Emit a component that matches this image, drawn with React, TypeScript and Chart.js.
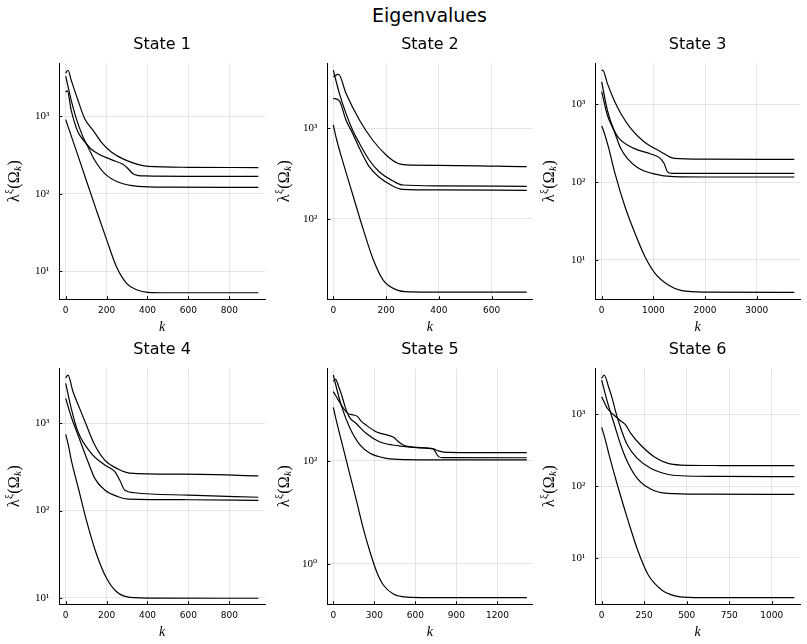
import { useEffect, useRef } from "react";
import { Chart, registerables } from "chart.js";

Chart.register(...registerables);

type Pt = [number, number];

// ---- State 1: eigenvalue traces, [k, λ] ----
const s1a: Pt[] = [[0, 3620], [11, 3930], [27, 2920], [60, 1610], [93, 933], [134, 659], [174, 466], [223, 346], [288, 276], [402, 226], [600, 220], [942, 218]];
const s1b: Pt[] = [[0, 3300], [27, 1610], [60, 805], [101, 445], [158, 330], [223, 276], [280, 240], [305, 211], [329, 182], [386, 170], [600, 168], [942, 168]];
const s1c: Pt[] = [[0, 2060], [8, 2130], [27, 1195], [60, 627], [101, 440], [142, 271], [191, 182], [256, 142], [354, 125], [500, 122], [942, 121]];
const s1d: Pt[] = [[0, 906], [50, 372], [100, 151], [150, 61.7], [200, 25.7], [250, 11.2], [300, 6.9], [350, 5.75], [400, 5.37], [500, 5.3], [942, 5.3]];

// ---- State 2 ----
const s2a: Pt[] = [[0, 3710], [20, 3940], [48, 2430], [99, 1235], [149, 743], [200, 508], [244, 411], [275, 394], [400, 390], [733, 377]];
const s2b: Pt[] = [[0, 4390], [23, 2430], [48, 1462], [73, 957], [99, 684], [136, 447], [174, 332], [225, 264], [263, 237], [400, 232], [733, 229]];
const s2c: Pt[] = [[0, 2140], [23, 2010], [48, 1235], [73, 881], [99, 603], [136, 377], [174, 288], [225, 231], [263, 212], [400, 209], [733, 207]];
const s2d: Pt[] = [[0, 1090], [13, 743], [38, 411], [76, 176], [114, 75.7], [152, 35.3], [189, 21.2], [240, 16.5], [291, 15.7], [400, 15.6], [733, 15.6]];

// ---- State 3 ----
const s3a: Pt[] = [[0, 2670], [20, 2730], [109, 1840], [238, 1125], [367, 760], [561, 487], [819, 329], [1142, 245], [1399, 201], [2000, 196], [3728, 195]];
const s3b: Pt[] = [[0, 1930], [109, 837], [238, 464], [335, 363], [625, 270], [948, 229], [1109, 207], [1206, 174], [1270, 136], [1366, 129], [2000, 129], [3728, 129]];
const s3c: Pt[] = [[0, 1440], [109, 723], [238, 455], [367, 271], [496, 201], [690, 154], [1012, 127], [1399, 117], [2000, 116], [3728, 116]];
const s3d: Pt[] = [[0, 522], [31, 464], [128, 284], [257, 129], [451, 48.2], [644, 22], [838, 11], [1032, 6.74], [1290, 4.78], [1548, 4.04], [2000, 3.87], [3728, 3.85]];

// ---- State 4 ----
const s4a: Pt[] = [[0, 3330], [11, 3580], [36, 2300], [68, 1485], [101, 955], [142, 564], [191, 379], [256, 299], [296, 274], [331, 267], [657, 260], [942, 250]];
const s4b: Pt[] = [[0, 2880], [27, 1485], [60, 801], [125, 453], [191, 333], [240, 279], [264, 224], [288, 172], [337, 160], [600, 150], [942, 142]];
const s4c: Pt[] = [[0, 1935], [27, 1190], [60, 735], [109, 363], [142, 234], [191, 172], [256, 144], [305, 135], [600, 133], [942, 131]];
const s4d: Pt[] = [[0, 748], [13, 564], [29, 363], [62, 180], [103, 74.5], [152, 30.9], [200, 16.7], [249, 11.7], [314, 10.1], [450, 9.9], [942, 9.85]];

// ---- State 5 ----
const s5a: Pt[] = [[0, 3500], [17, 3800], [40, 2700], [61, 1890], [86, 1120], [117, 700], [166, 532], [239, 340], [337, 234], [434, 202], [512, 190], [610, 179], [731, 169], [760, 158], [805, 147], [1000, 144], [1415, 143]];
const s5b: Pt[] = [[0, 2190], [44, 1400], [105, 830], [150, 770], [178, 716], [200, 600], [239, 493], [312, 366], [434, 292], [446, 280], [470, 241], [512, 202], [610, 181], [731, 170], [745, 150], [770, 120], [800, 115], [1415, 114]];
const s5c: Pt[] = [[0, 4610], [24, 2550], [61, 1120], [122, 426], [195, 202], [268, 139], [390, 111], [512, 105], [800, 104], [1415, 104]];
const s5d: Pt[] = [[0, 1090], [24, 571], [73, 174], [122, 52.7], [171, 16], [219, 4.86], [268, 1.71], [317, 0.7], [366, 0.386], [439, 0.258], [537, 0.225], [700, 0.22], [1415, 0.219]];

// ---- State 6 ----
const s6a: Pt[] = [[0, 1760], [33, 1213], [72, 978], [112, 807], [141, 710], [171, 543], [229, 373], [308, 256], [386, 208], [464, 196], [700, 193], [1133, 192]];
const s6b: Pt[] = [[0, 3180], [14, 3530], [43, 2310], [62, 1670], [82, 1087], [112, 638], [151, 373], [209, 243], [288, 177], [386, 146], [464, 139], [700, 136], [1133, 135]];
const s6c: Pt[] = [[0, 3000], [33, 1500], [72, 749], [112, 373], [151, 218], [209, 128], [288, 90.8], [386, 79], [600, 77], [1133, 76.6]];
const s6d: Pt[] = [[0, 658], [19, 462], [49, 243], [98, 93], [157, 31.8], [215, 12.1], [274, 5.74], [353, 3.55], [431, 2.93], [510, 2.8], [700, 2.77], [1133, 2.77]];

// ---- tick values ----
const xTicks1 = [0, 200, 400, 600, 800];
const xTicks2 = [0, 200, 400, 600];
const xTicks3 = [0, 1000, 2000, 3000];
const xTicks5 = [0, 300, 600, 900, 1200];
const xTicks6 = [0, 250, 500, 750, 1000];
const yTicks123 = [10, 100, 1000];
const yTicks2 = [100, 1000];
const yTicks5 = [1, 100];

const titles = ["State 1", "State 2", "State 3", "State 4", "State 5", "State 6"];

interface PanelSpec {
  title: string;
  lines: Pt[][];
  xTicks: number[];
  yTicks: number[];
  xRange: [number, number];
  yRange: [number, number];
  cell: { x: number; y: number; w: number; h: number };
  plot: { l: number; t: number; r: number; b: number };
}

const TOP = { y: 30, h: 305 };
const BOT = { y: 335, h: 309 };
const COLS = [
  { x: 0, w: 270, l: 59.3, r: 265 },
  { x: 270, w: 265, l: 327.3, r: 532.6 },
  { x: 535, w: 272, l: 595.3, r: 800 },
];

function cellFor(row: number, col: number) {
  const R = row === 0 ? TOP : BOT;
  const C = COLS[col];
  const top = row === 0 ? 63.3 : 368.3;
  const bottom = row === 0 ? 299.3 : 604.3;
  return {
    cell: { x: C.x, y: R.y, w: C.w, h: R.h },
    plot: { l: C.l, t: top, r: C.r, b: bottom },
  };
}

const panels: PanelSpec[] = [
  { title: titles[0], lines: [s1a, s1b, s1c, s1d], xTicks: xTicks1, yTicks: yTicks123, xRange: [-31.3, 974.6], yRange: [4.36, 4830], ...cellFor(0, 0) },
  { title: titles[1], lines: [s2a, s2b, s2c, s2d], xTicks: xTicks2, yTicks: yTicks2, xRange: [-22.7, 755], yRange: [13.0, 5210], ...cellFor(0, 1) },
  { title: titles[2], lines: [s3a, s3b, s3c, s3d], xTicks: xTicks3, yTicks: yTicks123, xRange: [-124, 3838], yRange: [3.13, 3330], ...cellFor(0, 2) },
  { title: titles[3], lines: [s4a, s4b, s4c, s4d], xTicks: xTicks1, yTicks: yTicks123, xRange: [-31.3, 974.6], yRange: [8.4, 4280], ...cellFor(1, 0) },
  { title: titles[4], lines: [s5a, s5b, s5c, s5d], xTicks: xTicks5, yTicks: yTicks5, xRange: [-43.9, 1457], yRange: [0.163, 6220], ...cellFor(1, 1) },
  { title: titles[5], lines: [s6a, s6b, s6c, s6d], xTicks: xTicks6, yTicks: yTicks123, xRange: [-37.6, 1166], yRange: [2.24, 4380], ...cellFor(1, 2) },
];

const SUP: Record<string, string> = { "0": "⁰", "1": "¹", "2": "²", "3": "³", "4": "⁴", "-": "⁻" };
function powLabel(v: number): string {
  const e = Math.round(Math.log10(v));
  return "10" + String(e).split("").map((c) => SUP[c] ?? c).join("");
}

const SANS = '"DejaVu Sans", sans-serif';
const SERIF = '"Liberation Serif", "DejaVu Serif", serif';

// λ^ξ(Ω_k), written sideways along the y axis
function drawYLabel(ctx: CanvasRenderingContext2D, cx: number, cy: number) {
  const parts = [
    { t: "λ", f: `16px ${SERIF}`, dy: 0, gap: 0.5 },
    { t: "ξ", f: `11px ${SERIF}`, dy: -6, gap: 0.5 },
    { t: "(Ω", f: `16px ${SERIF}`, dy: 0, gap: 0.5 },
    { t: "k", f: `italic 11px ${SERIF}`, dy: 3.5, gap: 0.5 },
    { t: ")", f: `16px ${SERIF}`, dy: 0, gap: 0 },
  ];
  ctx.save();
  ctx.translate(cx, cy);
  ctx.rotate(-Math.PI / 2);
  ctx.textBaseline = "middle";
  ctx.textAlign = "left";
  ctx.fillStyle = "#000";
  let total = 0;
  const widths = parts.map((p) => {
    ctx.font = p.f;
    const w = ctx.measureText(p.t).width + p.gap;
    total += w;
    return w;
  });
  let x = -total / 2;
  parts.forEach((p, i) => {
    ctx.font = p.f;
    ctx.fillText(p.t, x, p.dy);
    x += widths[i];
  });
  ctx.restore();
}

function makeDecor(spec: PanelSpec) {
  return {
    id: "panelDecor",
    afterDraw(chart: Chart) {
      const ctx = chart.ctx;
      const area = chart.chartArea;
      const xs = chart.scales.x;
      const ys = chart.scales.y;
      ctx.save();
      // short inward tick marks
      ctx.strokeStyle = "#000";
      ctx.lineWidth = 1;
      ctx.beginPath();
      spec.xTicks.forEach((v) => {
        const px = Math.round(xs.getPixelForValue(v)) + 0.5;
        ctx.moveTo(px, area.bottom);
        ctx.lineTo(px, area.bottom - 3);
      });
      spec.yTicks.forEach((v) => {
        const py = Math.round(ys.getPixelForValue(v)) + 0.5;
        ctx.moveTo(area.left, py);
        ctx.lineTo(area.left + 3, py);
      });
      ctx.stroke();
      // subplot title
      ctx.fillStyle = "#000";
      ctx.textAlign = "center";
      ctx.textBaseline = "middle";
      ctx.font = `16px ${SANS}`;
      ctx.fillText(spec.title, (area.left + area.right) / 2, 15);
      // x axis label
      ctx.font = `italic 14px ${SERIF}`;
      ctx.fillText("k", (area.left + area.right) / 2, 297);
      ctx.restore();
      drawYLabel(ctx, 15, (area.top + area.bottom) / 2);
    },
  };
}

function Panel({ spec }: { spec: PanelSpec }) {
  const ref = useRef<HTMLCanvasElement>(null);
  useEffect(() => {
    const { cell, plot } = spec;
    const chart = new Chart(ref.current!, {
      type: "line",
      data: {
        datasets: spec.lines.map((line) => ({
          data: line.map(([x, y]) => ({ x, y })),
          borderColor: "#000",
          borderWidth: 1.2,
          pointRadius: 0,
          fill: false,
          cubicInterpolationMode: "monotone" as const,
        })),
      },
      options: {
        animation: false,
        responsive: false,
        maintainAspectRatio: false,
        events: [],
        layout: {
          padding: { left: 0, top: plot.t - cell.y, right: cell.x + cell.w - plot.r, bottom: 0 },
        },
        plugins: {
          legend: { display: false },
          tooltip: { enabled: false },
          title: { display: false },
        },
        scales: {
          x: {
            type: "linear",
            min: spec.xRange[0],
            max: spec.xRange[1],
            afterFit: (s: any) => {
              s.height = cell.y + cell.h - plot.b;
            },
            afterBuildTicks: (s: any) => {
              s.ticks = spec.xTicks.map((v) => ({ value: v }));
            },
            grid: { color: "rgba(0,0,0,0.1)", lineWidth: 1, drawTicks: false },
            border: { display: true, color: "#000", width: 1 },
            ticks: {
              autoSkip: false,
              maxRotation: 0,
              padding: 6,
              color: "#000",
              font: { family: SANS, size: 9 },
              callback: (v: any) => String(v),
            },
          },
          y: {
            type: "logarithmic",
            min: spec.yRange[0],
            max: spec.yRange[1],
            afterFit: (s: any) => {
              s.width = plot.l - cell.x;
            },
            afterBuildTicks: (s: any) => {
              s.ticks = spec.yTicks.map((v) => ({ value: v }));
            },
            grid: { color: "rgba(0,0,0,0.1)", lineWidth: 1, drawTicks: false },
            border: { display: true, color: "#000", width: 1 },
            ticks: {
              autoSkip: false,
              padding: 10,
              color: "#000",
              font: { family: SERIF, size: 11 },
              callback: (v: any) => powLabel(Number(v)),
            },
          },
        },
      },
      plugins: [makeDecor(spec)],
    });
    return () => chart.destroy();
  }, [spec]);
  const { cell } = spec;
  return (
    <canvas
      ref={ref}
      width={cell.w}
      height={cell.h}
      style={{ position: "absolute", left: cell.x, top: cell.y, width: cell.w, height: cell.h }}
    />
  );
}

export default function App() {
  return (
    <div style={{ position: "fixed", left: 0, top: 0, width: 807, height: 644, background: "#fff", overflow: "hidden" }}>
      <div
        style={{
          position: "absolute",
          left: 329.5,
          top: 0,
          width: 200,
          height: 30,
          lineHeight: "30px",
          textAlign: "center",
          fontFamily: SANS,
          fontSize: 19,
          color: "#000",
        }}
      >
        Eigenvalues
      </div>
      {panels.map((p) => (
        <Panel key={p.title} spec={p} />
      ))}
    </div>
  );
}
